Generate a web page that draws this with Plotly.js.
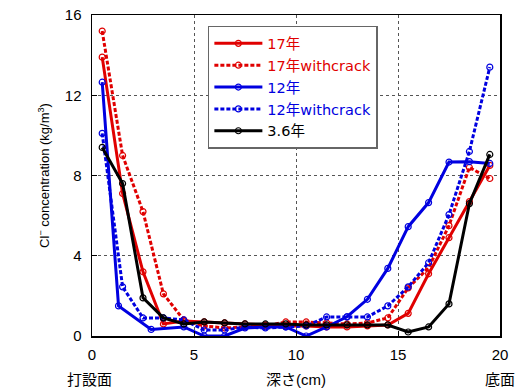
<!DOCTYPE html>
<html>
<head>
<meta charset="utf-8">
<script src="https://cdn.plot.ly/plotly-3.0.1.min.js"></script>
<style>html,body{margin:0;padding:0;background:#fff;}</style>
</head>
<body>
<div id="chart" style="width:531px;height:392px;"></div>
<script>
// Depth positions (cm)
const depth = [0.5,1.5,2.5,3.5,4.5,5.5,6.5,7.5,8.5,9.5,10.5,11.5,12.5,13.5,14.5,15.5,16.5,17.5,18.5,19.5];
const depth12 = [0.5,1.3,2.9,4.5,5.5,6.5,7.5,8.5,9.5,10.5,11.5,12.5,13.5,14.5,15.5,16.5,17.5,18.5,19.5];

const y17 = [13.9,7.1,3.2,0.6,0.75,0.7,0.65,0.6,0.55,0.5,0.5,0.45,0.45,0.5,0.55,1.13,3.1,4.9,6.7,8.5];
const y17crack = [15.2,9.0,6.2,2.1,0.8,0.5,0.4,0.45,0.5,0.7,0.7,0.65,0.6,0.65,0.9,2.4,3.4,5.5,8.4,7.85];
const y12 = [12.65,1.5,0.33,0.45,0.0,0.0,0.4,0.45,0.45,0.0,0.45,0.96,1.83,3.37,5.45,6.65,8.67,8.69,8.6];
const y12crack = [10.1,2.45,0.9,0.9,0.8,0.3,0.3,0.45,0.4,0.45,0.5,0.95,0.95,0.95,1.5,2.45,3.65,6.05,9.2,13.4];
const y36 = [9.4,7.6,1.9,0.9,0.6,0.7,0.65,0.6,0.6,0.6,0.55,0.55,0.55,0.55,0.55,0.2,0.45,1.6,6.6,9.05];

const names = ['17年','17年withcrack','12年','12年withcrack','3.6年'];
const xTicks = [0,5,10,15,20];
const yTicks = [0,4,8,12,16];

const RED = '#e00000', BLUE = '#0000e0', BLACK = '#000000';
function tr(x, y, name, color, dash) {
  return {
    x: x, y: y, type: 'scatter', mode: 'lines+markers',
    name: '<span style="color:' + color + '">' + name + '</span>',
    line: {color: color, width: 3, dash: dash},
    marker: {symbol: 'circle-open', size: 6, color: color, line: {width: 1.2, color: color}}
  };
}
const DASH = '4px,2px';
const data = [
  tr(depth, y17, names[0], RED, 'solid'),
  tr(depth, y17crack, names[1], RED, DASH),
  tr(depth12, y12, names[2], BLUE, 'solid'),
  tr(depth, y12crack, names[3], BLUE, DASH),
  tr(depth, y36, names[4], BLACK, 'solid')
];

const FONT = '"Liberation Sans", Arial, "Noto Sans CJK JP", sans-serif';
const LFONT = '"DejaVu Sans", "Noto Sans CJK JP", sans-serif';
const layout = {
  width: 531, height: 392,
  margin: {l: 92, r: 31, t: 15, b: 56},
  paper_bgcolor: '#fff', plot_bgcolor: '#fff',
  font: {family: FONT, size: 14, color: '#000'},
  showlegend: true,
  legend: {
    x: 0.284, y: 0.966, xanchor: 'left', yanchor: 'top',
    bgcolor: '#fff', bordercolor: '#666', borderwidth: 1.5,
    font: {family: LFONT, size: 14.5},
    tracegroupgap: 0, itemwidth: 48
  },
  xaxis: {
    range: [0, 20], tickvals: xTicks, ticktext: xTicks.map(String),
    showgrid: true, gridcolor: '#555', griddash: 'dot', gridwidth: 1,
    zeroline: false, showline: true, linecolor: '#000', linewidth: 1.5, mirror: true,
    ticks: 'inside', ticklen: 5, tickcolor: '#000',
    tickfont: {size: 15}, ticklabelstandoff: 4
  },
  yaxis: {
    range: [0, 16], tickvals: yTicks, ticktext: yTicks.map(String),
    showgrid: true, gridcolor: '#555', griddash: 'dot', gridwidth: 1,
    zeroline: false, showline: true, linecolor: '#000', linewidth: 1.5, mirror: true,
    ticks: 'inside', ticklen: 5, tickcolor: '#000',
    tickfont: {size: 15}, ticklabelstandoff: 6,
    title: {text: 'Cl<sup>−</sup> concentration (kg/m<sup>3</sup>)', font: {size: 13}, standoff: 12}
  },
  annotations: [
    {text: '深さ(cm)', xref: 'paper', yref: 'paper', x: 0.5, y: -0.137, xanchor: 'center', yanchor: 'middle', showarrow: false, font: {size: 15}},
    {text: '打設面', xref: 'paper', yref: 'paper', x: -0.005, y: -0.137, xanchor: 'center', yanchor: 'middle', showarrow: false, font: {size: 15}},
    {text: '底面', xref: 'paper', yref: 'paper', x: 1.0, y: -0.137, xanchor: 'center', yanchor: 'middle', showarrow: false, font: {size: 15}}
  ]
};
Plotly.newPlot('chart', data, layout, {displayModeBar: false, staticPlot: true});
</script>
</body>
</html>
